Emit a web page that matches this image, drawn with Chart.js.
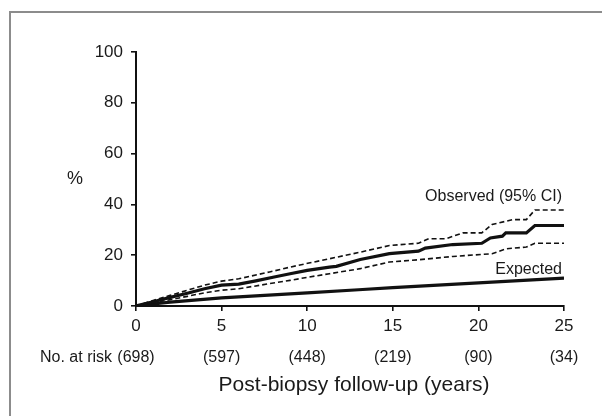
<!DOCTYPE html>
<html lang="en">
<head>
<meta charset="UTF-8" />
<title>Observed vs expected</title>
<script src="https://cdn.jsdelivr.net/npm/chart.js"></script>
<style>
body { margin: 0; background: #fff; }
.wrap { position: relative; width: 602px; height: 416px; }
.frame { position: absolute; left: 9px; top: 11px; right: 0; bottom: 0;
  border-left: 2px solid #8c8c8c; border-top: 2px solid #8c8c8c; }
canvas { position: absolute; left: 0; top: 0; }
</style>
</head>
<body>
<div class="wrap">
<div class="frame"></div>
<canvas id="myChart" width="602" height="416"></canvas>
</div>
<script>
// years and cumulative %
const obsYears = [0, 1, 2, 3, 4, 5, 6, 7, 8, 9, 10, 11.3, 11.7, 13.1, 14.8, 16.5, 16.9, 18.5, 20.2, 20.7, 21.4, 21.6, 22.8, 23.3, 25];
const obsValues = [0, 1.7, 3.4, 5.0, 6.8, 8.2, 8.6, 9.9, 11.3, 12.7, 14.0, 15.3, 15.6, 18.3, 20.6, 21.6, 22.8, 24.2, 24.7, 26.8, 27.5, 28.8, 28.8, 31.7, 31.7];

const upperYears = [0, 1, 2, 3, 4, 5, 6, 7.8, 9, 10.1, 11.3, 13.1, 14.8, 16.5, 17.1, 18.1, 19.1, 20.2, 20.8, 22, 22.8, 23.3, 25];
const upperValues = [0, 2.2, 4.2, 6.2, 8.2, 9.8, 10.7, 13.4, 15.3, 16.9, 18.6, 21.2, 23.8, 24.7, 26.5, 26.5, 28.8, 28.8, 32.1, 34.0, 34.0, 37.8, 37.8];

const lowerYears = [0, 1, 2, 3, 4, 5, 6, 7.8, 9, 10.1, 11.3, 13.1, 14.8, 16.5, 18.5, 20.2, 20.8, 21.6, 22.8, 23.3, 25];
const lowerValues = [0, 1.2, 2.5, 3.8, 5.2, 6.2, 6.8, 8.8, 10.1, 11.4, 12.7, 14.7, 17.3, 18.2, 19.5, 20.3, 20.6, 22.5, 23.2, 24.7, 24.7];

const expYears = [0, 1, 2, 5, 6, 10, 13, 15, 20, 25];
const expValues = [0, 0.8, 1.5, 3.2, 3.6, 5.2, 6.4, 7.2, 9.1, 11];

const riskYears = [0, 5, 10, 15, 20, 25];
const riskCounts = ["(698)", "(597)", "(448)", "(219)", "(90)", "(34)"];

const font = "'Liberation Sans', Arial, Helvetica, sans-serif";

function pts(xs, ys) {
  return xs.map((x, i) => ({ x: x, y: ys[i] }));
}

const extraText = {
  id: "extraText",
  afterDraw(chart) {
    const ctx = chart.ctx;
    const xs = chart.scales.x;
    const ys = chart.scales.y;
    ctx.save();
    ctx.fillStyle = "#1a1a1a";
    ctx.textBaseline = "middle";

    ctx.font = "18px " + font;
    ctx.textAlign = "center";
    ctx.fillText("%", 75, 179);

    ctx.font = "16px " + font;
    ctx.textAlign = "right";
    ctx.fillText("Observed (95% CI)", xs.getPixelForValue(25) - 2, ys.getPixelForValue(43));
    ctx.fillText("Expected", xs.getPixelForValue(25) - 2, ys.getPixelForValue(14.4));

    ctx.textAlign = "left";
    ctx.fillText("No. at risk", 40, 358);
    ctx.textAlign = "center";
    riskYears.forEach((yr, i) => {
      ctx.fillText(riskCounts[i], xs.getPixelForValue(yr), 358);
    });

    ctx.font = "21px " + font;
    ctx.fillText("Post-biopsy follow-up (years)", 354, 385);
    ctx.restore();
  }
};

const datasets = [
  { label: "Upper CI", data: pts(upperYears, upperValues), borderColor: "#111", borderWidth: 1.6, borderDash: [5, 3] },
  { label: "Lower CI", data: pts(lowerYears, lowerValues), borderColor: "#111", borderWidth: 1.6, borderDash: [5, 3] },
  { label: "Observed", data: pts(obsYears, obsValues), borderColor: "#111", borderWidth: 3.2 },
  { label: "Expected", data: pts(expYears, expValues), borderColor: "#111", borderWidth: 3.2 }
];

const axisGrid = { drawOnChartArea: false, drawTicks: true, tickLength: 5, color: "#111", lineWidth: 1.6 };

const config = {
  type: "line",
  data: { datasets },
  options: {
    responsive: false,
    animation: false,
    devicePixelRatio: 1,
    layout: { padding: { left: 0, top: 52, right: 38, bottom: 80 } },
    elements: { point: { radius: 0 }, line: { tension: 0, fill: false } },
    plugins: { legend: { display: false }, tooltip: { enabled: false } },
    scales: {
      x: {
        type: "linear",
        min: 0,
        max: 25,
        ticks: { stepSize: 5, padding: 5, color: "#1a1a1a", font: { family: font, size: 17 } },
        grid: axisGrid,
        border: { display: true, color: "#111", width: 2 },
        afterFit(scale) { scale.height = 30; }
      },
      y: {
        min: 0,
        max: 100,
        ticks: { stepSize: 20, padding: 8, color: "#1a1a1a", font: { family: font, size: 17 } },
        grid: axisGrid,
        border: { display: true, color: "#111", width: 2 },
        afterFit(scale) { scale.width = 136; }
      }
    }
  },
  plugins: [extraText]
};

new Chart(document.getElementById("myChart"), config);
</script>
</body>
</html>
